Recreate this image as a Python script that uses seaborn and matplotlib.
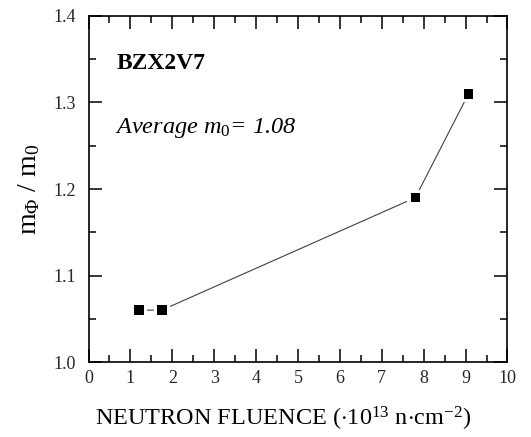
import matplotlib
matplotlib.use("Agg")
import matplotlib.pyplot as plt
import seaborn as sns
import pandas as pd
from matplotlib.ticker import MultipleLocator

fluence = [1.2, 1.75, 7.8, 9.07]
ratio = [1.06, 1.06, 1.19, 1.31]
x_ticks = [0, 1, 2, 3, 4, 5, 6, 7, 8, 9, 10]
y_ticks = [1.0, 1.1, 1.2, 1.3, 1.4]

df = pd.DataFrame({"fluence": fluence, "ratio": ratio})

sns.set_theme(style="ticks")
plt.rcParams["font.family"] = ["Liberation Serif", "DejaVu Serif"]
plt.rcParams["mathtext.fontset"] = "custom"
plt.rcParams["mathtext.rm"] = "Liberation Serif"
plt.rcParams["mathtext.it"] = "Liberation Serif:italic"
plt.rcParams["mathtext.bf"] = "Liberation Serif:bold"

fig = plt.figure(figsize=(5.31, 4.37), dpi=100)
ax = fig.add_axes([0.1667, 0.1716, 0.789, 0.7918])

sns.lineplot(data=df, x="fluence", y="ratio", ax=ax, color="#404040",
             linewidth=0.8, sort=False, zorder=2)
sns.scatterplot(data=df, x="fluence", y="ratio", ax=ax, marker="s",
                s=130, color="white", edgecolor="none", zorder=3)
sns.scatterplot(data=df, x="fluence", y="ratio", ax=ax, marker="s",
                s=46, color="black", edgecolor="none", zorder=4)

ax.set_xlim(0, 10)
ax.set_ylim(1.0, 1.4)
ax.set_xticks(x_ticks)
ax.set_xticklabels([str(t) for t in x_ticks])
ax.set_yticks(y_ticks)
ax.set_yticklabels([f"{t:.1f}" for t in y_ticks])
ax.xaxis.set_minor_locator(MultipleLocator(0.5))
ax.yaxis.set_minor_locator(MultipleLocator(0.05))

ax.tick_params(which="both", direction="in", top=True, right=True,
               color="black", width=1.1)
ax.tick_params(which="major", length=9.5)
ax.tick_params(which="minor", length=5)
ax.tick_params(axis="x", which="major", labelsize=13, pad=6)
ax.tick_params(axis="y", which="major", labelsize=13, pad=9)
for sp in ax.spines.values():
    sp.set_linewidth(1.2)
    sp.set_color("black")

ax.set_xlabel(r"NEUTRON FLUENCE ($\cdot$10$^{13}$ n$\cdot$cm$^{-2}$)",
              fontsize=17.5, color="black")
ax.xaxis.set_label_coords(0.464, -0.125)
ax.set_ylabel(r"m$_\Phi$ / m$_0$", fontsize=20, labelpad=8, color="black")

ax.text(0.68, 1.339, "BZX2V7", fontsize=17, fontweight="bold", color="black")
ax.text(0.63, 1.265, r"Average m$_{\mathit{0}}$= 1.08", fontsize=17.5,
        style="italic", color="black")

fig.savefig("out.png", dpi=100)
